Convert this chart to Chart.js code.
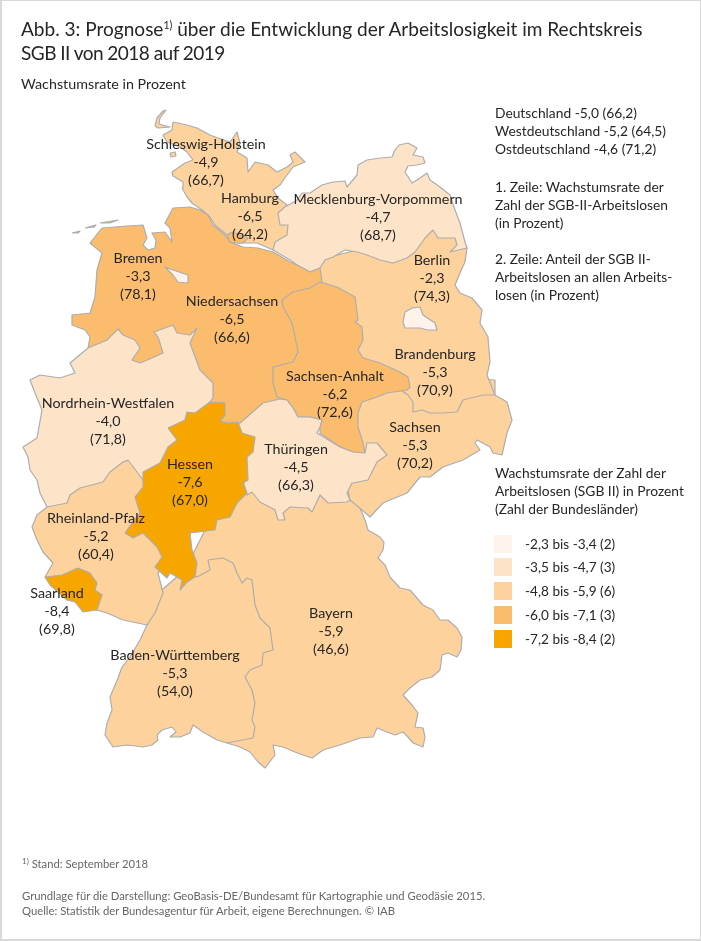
<!DOCTYPE html>
<html lang="de">
<head>
<meta charset="utf-8">
<title>Abb. 3</title>
<script src="https://cdn.jsdelivr.net/npm/chart.js@4"></script>
<style>
  html, body { margin: 0; padding: 0; background: #fff; }
  #page { position: relative; width: 701px; height: 941px; overflow: hidden; font-family: Lato, sans-serif; color: #262626; }
  #frame { position: absolute; left: 0; top: 0; width: 701px; height: 941px; box-sizing: border-box; border: 1px solid #d9d9d9; border-left-width: 2px; border-bottom-width: 2px; pointer-events: none; }
  #myChart { position: absolute; left: 0; top: 0; }
  .t { position: absolute; white-space: nowrap; }
  .title { left: 21px; font-size: 19.06px; line-height: 26px; }
  .title sup { font-size: 10.5px; line-height: 0; vertical-align: 7px; }
  .sub { left: 21px; top: 75px; font-size: 14.3px; line-height: 18px; }
  .side { left: 495px; font-size: 13.8px; line-height: 18px; }
  .swatch { position: absolute; left: 494px; width: 18px; height: 18px; }
  .item { left: 525px; font-size: 13.6px; line-height: 18px; }
  .foot { left: 22px; font-size: 11.28px; line-height: 15px; color: #666; }
  .foot sup { font-size: 8px; line-height: 0; vertical-align: 4px; }
</style>
</head>
<body>
<div id="page">
  <canvas id="myChart" width="701" height="941"></canvas>
  <div class="t title" style="top:16px">Abb. 3: Prognose<sup>1)</sup> über die Entwicklung der Arbeitslosigkeit im Rechtskreis</div>
  <div class="t title" style="top:40px;letter-spacing:-0.55px">SGB II von 2018 auf 2019</div>
  <div class="t sub">Wachstumsrate in Prozent</div>
  <div id="side"></div>
  <div id="legend"></div>
  <div class="t foot" style="top:856px"><sup>1)</sup> Stand: September 2018</div>
  <div class="t foot" style="top:888px">Grundlage für die Darstellung: GeoBasis-DE/Bundesamt für Kartographie und Geodäsie 2015.</div>
  <div class="t foot" style="top:903px">Quelle: Statistik der Bundesagentur für Arbeit, eigene Berechnungen. © IAB</div>
  <div id="frame"></div>
</div>
<script>
// values printed on the map
const states = ["Schleswig-Holstein", "Hamburg", "Mecklenburg-Vorpommern", "Bremen", "Berlin", "Niedersachsen", "Brandenburg", "Sachsen-Anhalt", "Nordrhein-Westfalen", "Sachsen", "Thüringen", "Hessen", "Rheinland-Pfalz", "Saarland", "Baden-Württemberg", "Bayern"];
const growth = [-4.9, -6.5, -4.7, -3.3, -2.3, -6.5, -5.3, -6.2, -4.0, -5.3, -4.5, -7.6, -5.2, -8.4, -5.3, -5.9];
const share = [66.7, 64.2, 68.7, 78.1, 74.3, 66.6, 70.9, 72.6, 71.8, 70.2, 66.3, 67.0, 60.4, 69.8, 54.0, 46.6];

const totals = ["Deutschland", "Westdeutschland", "Ostdeutschland"];
const totalGrowth = [-5.0, -5.2, -4.6];
const totalShare = [66.2, 64.5, 71.2];

const classLabels = ["-2,3 bis -3,4 (2)", "-3,5 bis -4,7 (3)", "-4,8 bis -5,9 (6)", "-6,0 bis -7,1 (3)", "-7,2 bis -8,4 (2)"];
const classLimits = [-3.4, -4.7, -5.9, -7.1, -8.4];
const classColors = ["#fdf3ea", "#fde3c8", "#fdd29d", "#fbbd6d", "#f7a600"];

// outlines in map units
const shapeSH = [[173,122],[187,125],[197,128],[210,135],[218,138],[230,142],[237,132],[240,143],[237,152],[247,158],[248,172],[255,162],[268,165],[277,172],[287,167],[293,162],[290,155],[295,152],[305,162],[293,167],[287,175],[280,185],[273,190],[278,198],[287,205],[278,213],[280,225],[288,225],[287,235],[275,242],[273,250],[257,243],[243,243],[237,243],[227,235],[215,225],[210,217],[202,210],[192,203],[187,197],[182,188],[183,182],[173,176],[172,172],[185,163],[193,160],[187,152],[180,147],[167,142],[163,135],[172,130]];
const shapeMV = [[287,206],[297,200],[302,193],[310,193],[322,185],[333,182],[345,181],[347,187],[357,175],[358,165],[367,160],[380,158],[392,157],[395,150],[399,145],[408,143],[417,148],[413,155],[423,157],[425,163],[417,165],[408,166],[405,172],[412,183],[420,178],[427,173],[430,180],[440,187],[450,195],[455,210],[460,223],[465,242],[467,248],[450,252],[457,245],[455,238],[438,238],[433,230],[425,238],[415,252],[407,258],[393,263],[380,260],[367,255],[357,252],[345,250],[333,257],[325,260],[320,268],[310,272],[300,267],[290,260],[273,250],[272,225],[275,205]];
const shapeBB = [[467,248],[465,262],[460,273],[455,285],[460,293],[472,298],[482,310],[480,323],[488,337],[490,362],[487,375],[495,395],[483,395],[463,400],[457,412],[443,413],[430,413],[422,410],[413,412],[413,402],[408,395],[370,370],[330,330],[315,300],[310,262],[455,225]];
const shapeNI = [[102,228],[127,226],[143,225],[147,238],[143,245],[148,250],[155,248],[156,240],[152,233],[165,232],[172,242],[170,228],[165,223],[173,208],[190,207],[200,210],[208,215],[213,225],[225,235],[230,242],[243,247],[258,248],[273,252],[290,262],[303,268],[310,272],[320,268],[322,282],[300,330],[300,380],[270,440],[215,440],[200,390],[100,380],[88,348],[90,337],[85,330],[72,325],[72,315],[90,313],[95,297],[97,270],[102,253],[90,243]];
const shapeST = [[282,300],[293,292],[310,288],[320,282],[337,287],[355,297],[358,320],[355,322],[362,327],[363,340],[358,350],[363,358],[380,363],[400,372],[408,377],[410,387],[407,390],[387,393],[377,397],[362,402],[358,413],[358,427],[363,443],[365,453],[353,452],[340,447],[320,433],[320,427],[322,420],[310,417],[298,417],[293,408],[287,400],[280,398],[277,397],[273,383],[273,367],[293,362],[298,352],[295,337],[292,323],[283,307]];
const shapeNW = [[88,348],[107,340],[118,329],[123,335],[135,340],[140,348],[132,360],[140,363],[152,358],[163,353],[158,337],[154,332],[173,325],[177,333],[190,335],[197,328],[190,343],[200,370],[213,383],[213,398],[210,402],[190,425],[155,475],[143,480],[137,472],[128,460],[123,462],[110,472],[103,482],[80,488],[70,495],[67,503],[47,507],[40,493],[37,480],[30,470],[28,457],[23,447],[37,438],[42,410],[35,393],[30,380],[40,375],[60,378],[75,373],[70,363]];
const shapeSN = [[495,395],[507,402],[512,420],[507,433],[502,455],[493,453],[490,447],[477,440],[475,443],[480,450],[463,460],[443,467],[430,477],[420,477],[407,493],[383,503],[370,517],[362,510],[350,500],[340,450],[340,400],[410,375],[495,380]];
const shapeTH = [[240,423],[263,403],[280,399],[287,400],[293,408],[298,417],[310,417],[322,420],[320,427],[317,433],[340,447],[353,452],[365,453],[367,443],[377,443],[387,455],[377,462],[368,480],[353,483],[352,483],[347,493],[350,500],[347,502],[328,503],[320,495],[312,512],[308,508],[290,507],[283,513],[285,520],[278,520],[275,510],[260,502],[252,492],[247,495],[240,470],[235,425]];
const shapeHE = [[168,428],[185,420],[187,412],[195,413],[210,402],[225,403],[225,415],[220,421],[228,423],[238,422],[242,433],[255,437],[253,452],[247,457],[248,480],[243,483],[247,493],[237,503],[230,517],[217,520],[215,530],[190,533],[192,550],[197,563],[195,577],[187,582],[180,590],[182,580],[170,573],[167,578],[155,567],[162,557],[157,547],[143,533],[133,538],[125,533],[132,523],[140,513],[135,497],[143,487],[143,472],[160,463],[168,447],[177,440]];
const shapeRP = [[47,507],[37,515],[32,527],[37,540],[43,552],[53,563],[45,577],[70,590],[97,610],[107,613],[123,620],[147,625],[155,613],[163,593],[158,573],[170,560],[160,490],[130,460],[47,480]];
const shapeSL = [[45,577],[62,575],[78,568],[90,573],[97,583],[95,590],[102,595],[97,610],[83,612],[75,602],[67,600],[58,592],[50,585]];
const shapeBW = [[147,625],[140,640],[130,657],[122,667],[118,678],[110,697],[112,710],[107,723],[105,735],[113,747],[127,745],[143,747],[152,745],[158,740],[157,735],[162,730],[172,727],[176,732],[170,737],[180,737],[190,733],[193,725],[203,732],[217,740],[227,743],[237,741],[253,738],[255,727],[252,720],[255,703],[252,690],[245,677],[250,670],[262,665],[263,653],[273,650],[270,628],[260,618],[255,605],[252,580],[247,578],[242,583],[237,573],[233,563],[223,558],[208,560],[210,570],[197,577],[185,570],[150,600]];
const shapeBY = [[360,508],[365,520],[368,530],[380,537],[384,542],[383,550],[378,558],[385,565],[390,577],[400,588],[410,590],[423,605],[433,610],[440,620],[448,620],[457,628],[462,637],[461,650],[457,657],[448,653],[442,655],[440,670],[432,677],[420,680],[410,688],[403,695],[412,705],[418,713],[415,727],[423,728],[425,737],[423,747],[413,743],[408,737],[403,732],[395,735],[387,732],[377,728],[373,737],[360,738],[340,745],[323,750],[312,758],[303,755],[295,752],[283,747],[273,745],[275,755],[265,768],[258,762],[250,752],[240,747],[227,743],[220,700],[200,600],[190,560],[220,500],[260,480],[340,470],[370,490]];
const shapeHH = [[227,235],[232,232],[240,235],[248,238],[243,243],[237,243],[230,242]];
const shapeHB = [[165,267],[173,270],[188,275],[188,283],[178,282],[173,275]];
const shapeBE = [[405,312],[412,308],[420,307],[423,315],[435,323],[437,330],[427,330],[420,328],[405,328],[403,322]];
const shapeSylt = [[155,126],[157,118],[163,111],[166,110],[160,118],[159,124],[170,127],[158,128]];
const shapeFoehr = [[170,153],[175,152],[176,156],[171,157]];
const shapeFrisia = [[72,233],[80,231],[78,233]];
const shapeFrisia2 = [[85,228],[96,225],[94,227]];
const shapeFrisia3 = [[100,223],[112,221],[118,220],[110,223]];

// paint order: later outlines sit on top of their neighbours
const paintOrder = [
  [shapeBY, "Bayern"], [shapeBW, "Baden-Württemberg"], [shapeSN, "Sachsen"], [shapeBB, "Brandenburg"],
  [shapeMV, "Mecklenburg-Vorpommern"], [shapeSH, "Schleswig-Holstein"], [shapeSylt, "Schleswig-Holstein"], [shapeFoehr, "Schleswig-Holstein"],
  [shapeNI, "Niedersachsen"], [shapeFrisia, "Niedersachsen"], [shapeFrisia2, "Niedersachsen"], [shapeFrisia3, "Niedersachsen"],
  [shapeST, "Sachsen-Anhalt"], [shapeTH, "Thüringen"], [shapeRP, "Rheinland-Pfalz"], [shapeNW, "Nordrhein-Westfalen"],
  [shapeHE, "Hessen"], [shapeSL, "Saarland"], [shapeHH, "Hamburg"], [shapeHB, "Bremen"], [shapeBE, "Berlin"]
];

// where each label block sits: centre x, middle of first line
const labelAnchor = {
  "Schleswig-Holstein": [206, 144], "Hamburg": [250, 198], "Mecklenburg-Vorpommern": [378, 199], "Bremen": [138, 258],
  "Berlin": [432, 260], "Niedersachsen": [232, 301], "Brandenburg": [435, 354], "Sachsen-Anhalt": [335, 376],
  "Nordrhein-Westfalen": [108, 403], "Sachsen": [415, 427], "Thüringen": [296, 449], "Hessen": [190, 464],
  "Rheinland-Pfalz": [96, 518], "Saarland": [57, 593], "Baden-Württemberg": [175, 655], "Bayern": [331, 613]
};

const comma = (v) => v.toFixed(1).replace(".", ",");

const colorFor = (name) => {
  const v = growth[states.indexOf(name)];
  const i = classLimits.findIndex((limit) => v >= limit);
  return classColors[i];
};

// fills each closed outline using the line element the chart has built
const fillShapes = {
  id: "fillShapes",
  beforeDatasetDraw(chart, args) {
    const ctx = chart.ctx;
    ctx.save();
    ctx.beginPath();
    args.meta.dataset.path(ctx);
    ctx.closePath();
    ctx.fillStyle = args.meta.dataset.options.backgroundColor;
    ctx.fill();
    ctx.restore();
  }
};

const stateLabels = {
  id: "stateLabels",
  afterDraw(chart) {
    const ctx = chart.ctx;
    const xs = chart.scales.x;
    const ys = chart.scales.y;
    ctx.save();
    ctx.font = "14.3px Lato, sans-serif";
    ctx.fillStyle = "#262626";
    ctx.textAlign = "center";
    ctx.textBaseline = "middle";
    states.forEach((name, i) => {
      const x = xs.getPixelForValue(labelAnchor[name][0]);
      const y = ys.getPixelForValue(labelAnchor[name][1]);
      ctx.fillText(name, x, y);
      ctx.fillText(comma(growth[i]), x, y + 18);
      ctx.fillText("(" + comma(share[i]) + ")", x, y + 36);
    });
    ctx.restore();
  }
};

// first dataset is drawn last, so flip the paint order
const datasets = paintOrder.slice().reverse().map(([shape, name]) => ({
  label: name,
  data: shape.concat([shape[0]]).map(([x, y]) => ({ x, y })),
  showLine: true,
  fill: false,
  tension: 0,
  pointRadius: 0,
  borderWidth: 1.2,
  borderColor: "#adadad",
  borderJoinStyle: "round",
  backgroundColor: colorFor(name)
}));

new Chart(document.getElementById("myChart").getContext("2d"), {
  type: "scatter",
  data: { datasets },
  options: {
    responsive: false,
    animation: false,
    layout: { padding: 0 },
    plugins: { legend: { display: false }, tooltip: { enabled: false } },
    scales: {
      x: { type: "linear", min: 0, max: 701, display: false },
      y: { type: "linear", min: 0, max: 941, reverse: true, display: false }
    }
  },
  plugins: [fillShapes, stateLabels]
});

// text column on the right
const sideLines = [
  ...totals.map((name, i) => [name + " " + comma(totalGrowth[i]) + " (" + comma(totalShare[i]) + ")", 104 + i * 18]),
  ["1. Zeile: Wachstumsrate der", 178], ["Zahl der SGB-II-Arbeitslosen", 196], ["(in Prozent)", 214],
  ["2. Zeile: Anteil der SGB II-", 250], ["Arbeitslosen an allen Arbeits-", 268], ["losen (in Prozent)", 286],
  ["Wachstumsrate der Zahl der", 464], ["Arbeitslosen (SGB II) in Prozent", 482], ["(Zahl der Bundesländer)", 500]
];
document.getElementById("side").innerHTML = sideLines
  .map(([text, top]) => `<div class="t side" style="top:${top}px">${text}</div>`).join("");

const legendTop = [535, 558, 582, 606, 630];
document.getElementById("legend").innerHTML = classLabels
  .map((text, i) => `<div class="swatch" style="top:${legendTop[i]}px;background:${classColors[i]}"></div>` +
    `<div class="t item" style="top:${legendTop[i]}px">${text}</div>`).join("");
</script>
</body>
</html>
